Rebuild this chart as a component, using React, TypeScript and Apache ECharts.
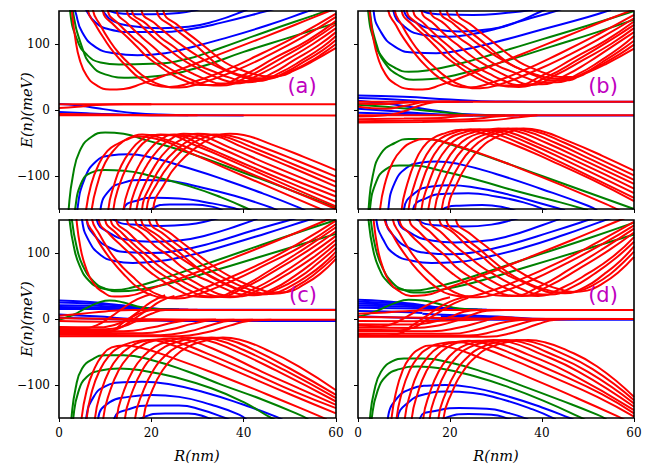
import React, { useEffect, useRef } from "react";
import * as echarts from "echarts";

type Curve = number[][];

const xTicks = [0, 20, 40, 60];
const yTicks = [-100, 0, 100];
const panelLabels = ["(a)", "(b)", "(c)", "(d)"];
const xTitle = "R(nm)";
const yTitle = "E(n)(meV)";

// ---------------- panel (a) ----------------
const aUpGreen: Curve[] = [
  [[2, 200], [2.4, 150], [4, 105], [6, 84], [9, 72], [13, 69], [20, 70], [27, 76], [35, 94], [45, 119], [55, 143], [60, 155]],
  [[2.4, 200], [3, 150], [5, 95], [7, 68], [10, 54], [15, 49], [22, 52], [30, 64], [40, 88], [50, 110], [60, 132]],
];
const aUpBlue: Curve[] = [
  [[2.5, 170], [3.5, 150], [5, 118], [8, 95], [12, 86], [17, 83], [23, 86], [28, 94], [35, 107], [45, 128], [54, 150], [58, 160]],
  [[5, 170], [6, 150], [8, 132], [11, 122], [16, 118], [22, 118], [28, 122], [35, 132], [45, 150], [50, 160]],
  [[8, 170], [9.5, 150], [12, 134], [16, 127], [22, 124], [28, 126], [34, 135], [40, 150], [43, 160]],
  [[9, 165], [11, 150], [14, 146], [20, 145], [26, 147], [30, 152], [33, 158]],
];
const aUpRed: Curve[] = [
  [[2.4, 190], [2.8, 150], [3.5, 110], [4.5, 76], [6, 52], [8, 38], [11, 31], [14, 32], [18, 40], [25, 58], [35, 85], [45, 112], [55, 140], [60, 154]],
  [[5.8, 190], [6.3, 150], [8, 128], [9.5, 111], [12, 86], [14.7, 66], [17.5, 48], [20.5, 38], [24, 35], [28, 40], [36, 60], [44, 86], [52, 114], [60, 146]],
  [[6.9, 190], [7.4, 150], [9, 128], [10.5, 110], [13, 86], [16, 65], [19, 48], [22, 38], [26, 34], [30, 39], [38, 59], [46, 85], [53, 111], [60, 141]],
  [[9, 190], [9.5, 150], [12, 128], [14.7, 111], [17, 95], [19, 81], [21.5, 68], [24, 56], [27, 45], [30.6, 38], [34, 38], [40, 53], [47, 80], [54, 106], [60, 135]],
  [[10.1, 190], [10.6, 150], [13, 130], [16, 110], [18.5, 95], [20.5, 80], [23, 67], [26, 55], [29, 45], [32, 38], [35, 37], [41, 51], [48, 78], [54, 102], [60, 130]],
  [[12, 190], [12.5, 150], [15, 130], [18, 110], [20.5, 95], [23, 80], [26, 66], [29, 55], [32, 46], [35, 40], [38, 40], [44, 56], [50, 79], [55, 100], [60, 124]],
  [[14.2, 190], [14.7, 150], [17.5, 130], [20.5, 110], [23, 96], [26, 80], [29, 67], [32, 56], [35, 47], [38, 42], [41, 42], [46, 55], [51, 76], [56, 97], [60, 118]],
  [[15.3, 190], [15.8, 150], [19, 130], [22, 110], [25, 95], [27.5, 80], [30.5, 67], [34, 57], [37, 49], [40, 44], [43, 44], [48, 57], [53, 77], [57, 95], [60, 112]],
  [[17.4, 190], [17.9, 150], [21, 130], [24, 112], [27, 96], [30, 82], [33, 70], [36, 60], [39, 52], [42, 47], [45, 47], [49, 57], [53, 73], [57, 90], [60, 106]],
  [[20.7, 190], [21.2, 150], [25, 124], [29.1, 101], [32, 83], [34.8, 66], [37.5, 57], [40.6, 51], [43, 48], [46, 49], [50, 58], [54, 72], [57, 85], [60, 100]],
  [[22.1, 190], [22.6, 150], [26, 127], [30, 105], [33, 88], [36, 72], [39, 62], [42, 55], [45, 51], [48, 52], [51, 60], [55, 74], [60, 94]],
];
const aMidBlue: Curve[] = [
  [[0, 9], [4, 7], [8, 3], [12, -1], [16, -4.5], [22, -7], [30, -8], [40, -8.2]],
  [[0, -3], [6, -5], [12, -6.5], [20, -7.8], [28, -8]],
];
const aMidRed: Curve[] = [
  [[0, 8.6], [30, 8.6], [60, 8.6]],
  [[0, -7.8], [30, -8], [60, -8.2]],
  [[0, 3], [4, 5], [8, 7.5], [14, 8.6], [20, 8.6]],
  [[0, -6], [10, -7], [20, -7.8], [30, -8]],
];
const aLowGreen: Curve[] = [
  [[1.7, -200], [2.1, -150], [3, -100], [4.5, -62], [7, -41], [10, -34], [14, -36], [19, -46], [25, -58], [31, -72], [40, -95], [50, -121], [60, -148]],
  [[3, -200], [3.5, -150], [5, -108], [7, -95], [10, -91], [14, -92], [20, -100], [28, -115], [35, -132], [41, -150], [43, -158]],
];
const aLowBlue: Curve[] = [
  [[3.5, -200], [4, -150], [5.5, -105], [8, -78], [11, -69], [15, -67], [20, -72], [28, -88], [36, -106], [44, -126], [52, -148], [54, -155]],
  [[8.5, -200], [9, -150], [11, -121], [14, -110], [18, -106], [23, -107], [30, -116], [38, -130], [46, -148], [48, -155]],
  [[13, -200], [14, -150], [17, -137], [21, -133], [26, -134], [32, -140], [38, -149], [40, -155]],
  [[17, -170], [20, -150], [24, -143], [29, -143], [34, -148], [36, -155]],
];
const aLowRed: Curve[] = [
  [[5.4, -200], [5.9, -150], [7, -112], [8.5, -84], [10.5, -62], [13, -50], [15, -44], [17, -40], [20, -42], [30, -70], [40, -100], [50, -130], [60, -160]],
  [[6.6, -200], [7.1, -150], [8.5, -108], [10, -80], [12, -60], [14, -47], [16, -40], [18, -37], [21, -40], [30, -63], [40, -92], [50, -121], [60, -150]],
  [[10.3, -200], [10.7, -150], [12, -112], [13.5, -84], [15.5, -62], [17.5, -47], [20, -38], [23, -38], [30, -55], [40, -85], [50, -116], [60, -146]],
  [[11.4, -200], [11.8, -150], [13, -115], [15, -82], [17, -60], [19, -46], [22, -37], [25, -38], [32, -57], [42, -87], [52, -116], [60, -139]],
  [[13.6, -200], [14, -150], [15.5, -112], [17.5, -82], [19.5, -61], [22, -45], [25, -37], [28, -39], [35, -58], [45, -89], [60, -131]],
  [[15, -200], [15.4, -150], [17, -112], [19, -84], [21.5, -60], [24, -45], [27, -36], [30, -38], [37, -57], [47, -87], [60, -124]],
  [[16.4, -200], [16.8, -150], [18.5, -114], [21, -82], [23.5, -60], [26.5, -45], [30, -36], [33, -38], [40, -57], [50, -86], [60, -116]],
  [[17.6, -200], [18, -150], [20, -112], [22.5, -82], [25.5, -60], [28.5, -45], [32, -37], [35, -39], [42, -57], [51, -83], [60, -109]],
  [[18.6, -200], [19, -150], [21.5, -108], [24.5, -78], [27.5, -57], [31, -43], [34, -37], [37, -39], [44, -56], [52, -78], [60, -101]],
  [[20, -200], [20.4, -150], [23, -110], [26, -80], [29.5, -58], [33, -43], [37, -36], [40, -38], [46, -52], [53, -71], [60, -91]],
];

// ---------------- panel (b) ----------------
const bUpGreen: Curve[] = [
  [[1.8, 200], [2.2, 150], [3.5, 105], [5.5, 78], [8, 64], [11, 58], [15, 60], [22, 70], [30, 86], [40, 107], [50, 128], [60, 150]],
  [[2.2, 200], [2.6, 150], [4, 100], [6, 70], [9, 52], [12, 46], [16, 47], [23, 56], [32, 74], [42, 96], [52, 118], [60, 137]],
];
const bUpBlue: Curve[] = [
  [[3, 200], [3.4, 150], [5, 118], [8, 96], [12, 87], [17, 86], [22, 90], [30, 103], [40, 122], [50, 141], [55, 152]],
  [[7, 200], [7.7, 150], [10, 127], [14, 114], [19, 111], [24, 114], [30, 123], [36, 136], [43, 150], [46, 158]],
  [[9, 200], [10, 150], [13, 131], [17, 122], [22, 119], [28, 122], [34, 132], [40, 150], [42, 156]],
  [[11, 165], [14, 150], [18, 145], [25, 144], [32, 147], [38, 152]],
];
const bUpRed: Curve[] = [
  [[2, 190], [2.5, 150], [3.3, 110], [4.4, 78], [6, 54], [8, 40], [11, 32], [14, 31], [18, 38], [25, 56], [35, 83], [45, 111], [55, 139], [60, 152]],
  [[6.1, 190], [6.6, 150], [8.3, 128], [9.8, 110], [12.3, 86], [15, 65], [17.8, 48], [20.8, 37], [24, 34], [28, 39], [36, 60], [44, 86], [52, 114], [60, 144]],
  [[7.5, 190], [8, 150], [9.6, 128], [11.1, 110], [13.6, 86], [16.6, 65], [19.6, 48], [22.6, 37], [26.5, 33], [30.5, 38], [38, 58], [46, 84], [53, 110], [60, 139]],
  [[9, 190], [9.5, 150], [12, 128], [14.7, 111], [17, 95], [19, 81], [21.5, 68], [24, 56], [27, 45], [30.6, 37], [34, 37], [40, 52], [47, 79], [54, 106], [60, 134]],
  [[10.1, 190], [10.6, 150], [13, 130], [16, 110], [18.5, 95], [20.5, 80], [23, 67], [26, 55], [29, 44], [32, 36], [35, 35], [41, 50], [48, 77], [54, 102], [60, 129]],
  [[11.5, 190], [12, 150], [14.5, 130], [17.5, 110], [20, 95], [22.5, 80], [25.5, 66], [28.5, 55], [31.5, 45], [34.5, 38], [37.5, 38], [43, 53], [49, 76], [55, 100], [60, 124]],
  [[13.3, 190], [13.8, 150], [16.6, 130], [19.6, 110], [22.1, 96], [25, 80], [28, 67], [31, 56], [34, 46], [37, 39], [40, 39], [45, 52], [50, 72], [55, 95], [60, 118]],
  [[15.2, 190], [15.7, 150], [18.9, 130], [21.9, 110], [24.9, 95], [27.4, 80], [30.4, 67], [33.9, 57], [36.9, 48], [39.9, 42], [43, 42], [48, 55], [53, 76], [57, 95], [60, 112]],
  [[17.3, 190], [17.8, 150], [20.9, 130], [23.9, 112], [26.9, 96], [29.9, 82], [32.9, 70], [35.9, 60], [38.9, 51], [41.9, 45], [45, 45], [49, 55], [53, 72], [57, 90], [60, 105]],
  [[18.8, 190], [19.3, 150], [23, 126], [27, 104], [30, 86], [33, 70], [36, 60], [39, 53], [42, 48], [45, 47], [49, 55], [53, 69], [57, 85], [60, 99]],
  [[20.9, 190], [21.4, 150], [25, 127], [29, 105], [32, 88], [35, 73], [38, 63], [41, 55], [44, 50], [47, 50], [50, 57], [54, 70], [60, 93]],
];
const bMidBlue: Curve[] = [
  [[0, 22], [10, 20], [20, 16], [30, 13], [45, 12.6], [60, 12.6]],
  [[0, 18], [8, 16], [16, 13], [25, 12.6]],
  [[0, 14], [6, 10], [12, 4], [18, -2], [25, -7], [35, -8.5], [60, -8.5]],
  [[0, 2], [8, -2], [16, -6], [25, -8.5]],
  [[0, -4], [10, -6], [20, -8], [30, -8.6]],
];
const bMidGreen: Curve[] = [
  [[0, 8], [6, 5], [12, 1], [18, -3], [26, -8], [32, -8.3]],
];
const bMidRed: Curve[] = [
  [[0, 12.6], [30, 12.6], [60, 12.6]],
  [[0, -8], [30, -8], [60, -8]],
  [[0, 10], [5, 9], [10, 11], [15, 12.6], [20, 12.6]],
  [[0, 5], [6, 2], [10, 6], [15, 12], [20, 12.6]],
  [[0, -10], [6, -8], [10, -2], [14, 8], [18, 12.6], [22, 12.6]],
  [[0, -14], [10, -13], [18, -12], [22, -9], [26, -8]],
  [[0, -17], [12, -16], [24, -14], [30, -10], [34, -8]],
  [[0, -19], [14, -18], [28, -16], [35, -11], [39, -8]],
];
const bLowGreen: Curve[] = [
  [[1.9, -200], [2.3, -150], [3.2, -100], [5, -66], [8, -50], [11, -44], [15, -44], [20, -52], [30, -75], [40, -100], [50, -125], [60, -150]],
  [[2.2, -200], [2.6, -150], [4, -108], [6, -90], [9, -84], [12, -84], [18, -92], [26, -106], [35, -124], [44, -140], [50, -152]],
];
const bLowBlue: Curve[] = [
  [[6.2, -200], [6.6, -150], [8, -110], [10.5, -88], [13.5, -80], [17, -78], [22, -82], [30, -97], [40, -120], [50, -145], [52, -152]],
  [[9.5, -200], [10, -150], [12.5, -125], [16, -116], [20, -114], [25, -117], [32, -127], [40, -142], [45, -152]],
  [[11.5, -200], [12, -150], [15, -133], [19, -127], [24, -126], [30, -131], [36, -140], [41, -152]],
  [[16, -170], [18, -152], [22, -145], [27, -144], [32, -148], [35, -155]],
];
const bLowRed: Curve[] = [
  [[4.4, -200], [4.8, -150], [6, -108], [7.5, -80], [9.5, -60], [12, -48], [14.5, -44], [18, -47], [25, -62], [35, -88], [45, -116], [55, -146], [57, -153]],
  [[9.1, -200], [9.5, -150], [10.8, -110], [12.3, -80], [14, -58], [16, -44], [19, -35], [22.5, -30], [26, -33], [33, -50], [42, -77], [51, -106], [60, -138]],
  [[10.6, -200], [11, -150], [12.4, -110], [14, -80], [15.8, -58], [18, -43], [21, -34], [24.5, -29], [28, -32], [35, -50], [44, -79], [52, -106], [60, -133]],
  [[12, -200], [12.4, -150], [13.9, -110], [15.6, -80], [17.5, -58], [19.8, -43], [23, -34], [26.5, -29], [30, -32], [37, -50], [46, -79], [60, -126]],
  [[13.4, -200], [13.8, -150], [15.4, -110], [17.2, -80], [19.3, -58], [21.7, -43], [25, -34], [28.5, -29], [32, -32], [39, -51], [48, -79], [60, -119]],
  [[14.9, -200], [15.3, -150], [17, -110], [19, -80], [21.2, -58], [23.7, -43], [27, -34], [30.5, -28], [34, -31], [41, -50], [50, -79], [60, -112]],
  [[16.3, -200], [16.7, -150], [18.5, -110], [20.6, -80], [23, -58], [25.6, -43], [29, -34], [32.5, -28], [36, -31], [43, -50], [51, -76], [60, -106]],
  [[17.8, -200], [18.2, -150], [20.1, -110], [22.3, -80], [24.8, -58], [27.5, -43], [31, -33], [34.5, -28], [38, -31], [45, -50], [52, -73], [60, -99]],
  [[19.2, -200], [19.6, -150], [21.6, -110], [24, -80], [26.6, -58], [29.5, -43], [33, -33], [36, -28], [39.5, -31], [46, -48], [53, -69], [60, -92]],
];

// ---------------- panel (c) ----------------
const cUpGreen: Curve[] = [
  [[1.8, 200], [2.3, 150], [3.2, 110], [4.5, 80], [6.5, 58], [9, 47], [12, 44], [16, 48], [22, 60], [30, 79], [40, 103], [50, 127], [60, 150]],
  [[2.3, 200], [2.8, 150], [3.8, 110], [5.2, 80], [7.5, 57], [10, 46], [13, 42], [17, 44], [24, 54], [32, 70], [42, 91], [52, 112], [60, 129]],
];
const cUpBlue: Curve[] = [
  [[4.5, 200], [5, 150], [6.5, 118], [9, 97], [12, 88], [16, 85], [21, 87], [28, 96], [36, 111], [45, 130], [54, 150], [57, 156]],
  [[5.5, 200], [6, 150], [8, 124], [11, 108], [15, 101], [20, 100], [26, 104], [33, 115], [42, 134], [50, 150], [53, 156]],
  [[7.5, 200], [8.2, 150], [11, 130], [15, 120], [20, 117], [26, 119], [32, 127], [39, 142], [43, 152]],
  [[10, 170], [12, 150], [16, 143], [22, 141], [28, 143], [33, 150], [36, 156]],
];
const cUpRed: Curve[] = [
  [[3.4, 190], [3.8, 150], [4.6, 110], [5.7, 80], [7.3, 56], [9.5, 41], [12, 34], [15, 35], [20, 46], [28, 66], [38, 93], [48, 121], [58, 150], [60, 156]],
  [[5.5, 190], [6, 150], [7.7, 128], [9.2, 110], [11.7, 86], [14.4, 65], [17.2, 47], [20.2, 36], [23.5, 32], [27.5, 37], [35, 57], [44, 85], [52, 115], [60, 149]],
  [[6.7, 190], [7.2, 150], [8.8, 128], [10.3, 110], [12.8, 86], [15.8, 65], [18.8, 47], [21.8, 36], [25.5, 31], [29.5, 36], [37, 56], [45, 83], [53, 112], [60, 144]],
  [[8.1, 190], [8.6, 150], [11, 128], [13.7, 110], [16, 95], [18, 81], [20.5, 67], [23, 55], [26, 43], [29.5, 34], [33, 33], [39, 47], [46, 75], [53, 106], [60, 139]],
  [[9.5, 190], [10, 150], [12.4, 130], [15.4, 110], [17.9, 95], [19.9, 80], [22.4, 67], [25.4, 55], [28.4, 43], [31.4, 35], [34.5, 34], [40, 47], [47, 74], [54, 104], [60, 133]],
  [[10.7, 190], [11.2, 150], [13.7, 130], [16.7, 110], [19.2, 95], [21.7, 80], [24.7, 66], [27.7, 54], [30.7, 43], [33.7, 35], [37, 33], [42, 45], [48, 68], [54, 96], [60, 126]],
  [[11.9, 190], [12.4, 150], [15.2, 130], [18.2, 110], [20.7, 96], [23.6, 80], [26.6, 67], [29.6, 55], [32.6, 44], [35.6, 36], [38.6, 34], [43.5, 45], [49, 66], [55, 93], [60, 120]],
  [[14.2, 190], [14.7, 150], [17.9, 130], [20.9, 110], [23.9, 95], [26.4, 80], [29.4, 67], [32.9, 56], [35.9, 46], [38.9, 38], [42, 36], [46.5, 46], [51, 65], [56, 91], [60, 114]],
  [[16, 190], [16.5, 150], [19.6, 130], [22.6, 112], [25.6, 96], [28.6, 82], [31.6, 70], [34.6, 59], [37.6, 49], [40.6, 41], [43.6, 38], [47.5, 46], [52, 63], [56, 84], [60, 108]],
  [[17.3, 190], [17.8, 150], [21.5, 126], [25.5, 104], [28.5, 86], [31.5, 70], [34.5, 58], [37.5, 48], [40.5, 41], [43.5, 37], [46.5, 39], [50.5, 51], [54, 66], [57, 82], [60, 102]],
  [[19, 190], [19.5, 150], [23, 127], [27, 105], [30, 88], [33, 73], [36, 61], [39, 51], [42, 43], [45, 38], [48, 39], [51.5, 50], [55, 66], [60, 96]],
  [[20.5, 190], [21, 150], [24.5, 128], [28.5, 106], [31.5, 90], [34.5, 75], [37.5, 63], [40.5, 53], [43.5, 45], [46.5, 40], [49.5, 41], [53, 52], [56.5, 68], [60, 91]],
];
const cMidBlue: Curve[] = [
  [[0, 28], [6, 26], [12, 22], [18, 17], [24, 14.5], [32, 14], [60, 14]],
  [[0, 25], [8, 23], [14, 20], [20, 16], [26, 14]],
  [[0, 21], [8, 20], [16, 17], [22, 15], [28, 14]],
  [[0, 18], [10, 17], [18, 15], [26, 14]],
  [[0, 15], [12, 15], [20, 14.5]],
  [[0, 7], [8, 4], [16, 0], [24, -2.5], [35, -3], [60, -3]],
  [[0, 2], [10, 0], [20, -2], [30, -3]],
];
const cMidGreen: Curve[] = [
  [[0, -1], [3, 6], [6, 17], [9, 26], [11, 28], [14, 25], [17, 19], [21, 15], [26, 14]],
];
const cMidRed: Curve[] = [
  [[0, 5], [5, 8], [10, 11.5], [16, 13.6], [30, 13.8], [60, 13.8]],
  [[0, 1], [15, 0], [30, -1], [60, -1.2]],
  [[0, -3], [10, -4], [18, -3], [26, -1.5], [34, -1]],
  [[0, -12], [8, -12.5], [12, -9], [15, 0], [18, 10], [21, 14], [28, 14]],
  [[0, -15], [10, -15.5], [14, -11], [17, -2], [20, 8], [23, 13.5], [30, 14]],
  [[0, -18], [14, -18.5], [20, -13], [25, -5], [29, -1.5], [34, -1]],
  [[0, -21], [18, -21.5], [24, -16], [29, -7], [33, -2], [38, -1]],
  [[0, -24], [22, -24.5], [28, -19], [33, -9], [37, -2.5], [42, -1]],
  [[0, -26], [26, -26], [32, -20], [37, -10], [41, -3], [46, -1]],
  [[0, -13], [5, -14], [8, -10], [11, 2], [14, 17], [17, 30], [20, 38]],
  [[0, -17], [10, -18], [13, -14], [16, -1], [19, 13], [22, 27], [25, 35]],
  [[0, -22], [8, -23], [11, -20], [14, -5], [17, 10], [20, 26], [23, 36]],
];
const cLowGreen: Curve[] = [
  [[2.2, -200], [2.7, -150], [3.6, -105], [5, -75], [7.5, -60], [10, -55], [14, -55], [20, -62], [28, -80], [35, -99], [44, -122], [52, -145], [54, -152]],
  [[2.6, -200], [3.1, -150], [4.2, -110], [6, -88], [9, -78], [13, -75], [18, -78], [25, -88], [33, -105], [40, -126], [46, -150], [48, -156]],
];
const cLowBlue: Curve[] = [
  [[5.4, -200], [5.9, -150], [7.5, -118], [10, -102], [14, -96], [18, -95], [24, -99], [32, -112], [40, -130], [47, -148], [49, -155]],
  [[8, -200], [8.5, -150], [11, -126], [15, -118], [20, -115], [26, -118], [33, -130], [39, -145], [41, -155]],
  [[11, -200], [12, -150], [15, -137], [20, -131], [26, -131], [31, -138], [36, -150], [38, -156]],
  [[15, -170], [18, -150], [23, -143], [28, -143], [32, -149], [34, -156]],
];
const cLowRed: Curve[] = [
  [[4.5, -200], [4.9, -150], [6, -108], [7.5, -78], [9.3, -56], [11.4, -43], [14, -40], [18, -44], [25, -60], [35, -86], [45, -114], [55, -143], [58, -152]],
  [[5.6, -200], [6, -150], [7.2, -108], [8.8, -78], [10.7, -57], [13, -43], [16, -35], [19.5, -32], [23, -36], [30, -54], [40, -84], [50, -114], [60, -143]],
  [[7.4, -200], [7.8, -150], [9.2, -108], [10.9, -78], [12.9, -57], [15.2, -43], [18, -34], [21.5, -31], [25, -34], [32, -52], [42, -82], [51, -110], [60, -135]],
  [[9.2, -200], [9.6, -150], [11.1, -108], [12.9, -78], [15, -57], [17.5, -42], [20.5, -33], [24.5, -29], [28, -32], [35, -50], [44, -80], [52, -105], [60, -130]],
  [[12.1, -200], [12.5, -150], [14.1, -108], [16, -78], [18.2, -57], [20.8, -42], [24, -33], [28, -28], [31.5, -31], [38, -48], [47, -78], [60, -125]],
  [[13.9, -200], [14.3, -150], [16, -108], [18, -78], [20.3, -57], [23, -42], [26.5, -33], [30.5, -28], [34, -31], [40, -47], [49, -78], [60, -120]],
  [[16.1, -200], [16.5, -150], [18.3, -108], [20.4, -78], [22.8, -57], [25.6, -42], [29.2, -33], [33, -28], [36.5, -31], [42, -46], [50, -75], [60, -115]],
  [[17.9, -200], [18.3, -150], [20.2, -108], [22.4, -78], [25, -57], [28, -42], [31.6, -33], [35.5, -28], [39, -31], [45, -47], [52, -72], [60, -108]],
];

// ---------------- panel (d) ----------------
const dUpGreen: Curve[] = [
  [[1.8, 200], [2.3, 150], [3.2, 108], [4.5, 78], [6.5, 56], [9, 45], [12, 43], [16, 47], [22, 58], [30, 76], [40, 99], [50, 122], [60, 146]],
  [[2.3, 200], [2.8, 150], [3.8, 108], [5.3, 78], [7.5, 55], [10, 44], [13, 40], [17, 43], [24, 53], [32, 69], [42, 90], [52, 111], [60, 128]],
];
const dUpBlue: Curve[] = [
  [[3.5, 200], [4, 150], [5.5, 120], [8, 98], [12, 88], [16, 85], [21, 86], [28, 94], [36, 108], [45, 128], [53, 148], [56, 155]],
  [[5.5, 200], [6, 150], [8, 124], [11, 108], [15, 100], [20, 98], [26, 102], [33, 113], [42, 132], [50, 150], [52, 155]],
  [[8, 200], [8.7, 150], [11.5, 130], [16, 119], [21, 116], [27, 118], [33, 126], [40, 142], [44, 152]],
  [[11, 170], [13, 150], [17, 142], [23, 140], [29, 143], [34, 151], [36, 156]],
];
const dUpRed: Curve[] = [
  [[3, 190], [3.4, 150], [4.2, 110], [5.3, 80], [6.9, 56], [9, 42], [11.5, 35], [14.5, 36], [19, 46], [27, 66], [37, 93], [47, 121], [57, 150], [60, 158]],
  [[5.3, 190], [5.8, 150], [7.5, 128], [9, 110], [11.5, 86], [14.2, 65], [17, 48], [20, 37], [23.3, 34], [27.3, 39], [35, 59], [44, 87], [52, 116], [60, 147]],
  [[7.1, 190], [7.6, 150], [9.2, 128], [10.7, 110], [13.2, 86], [16.2, 65], [19.2, 48], [22.2, 37], [26, 33], [30, 38], [37.5, 58], [45.5, 85], [53, 113], [60, 142]],
  [[8.5, 190], [9, 150], [11.4, 128], [14.1, 110], [16.4, 95], [18.4, 81], [20.9, 67], [23.4, 55], [26.4, 44], [29.9, 36], [33.4, 35], [39.4, 49], [46.4, 77], [53.4, 107], [60, 137]],
  [[10.7, 190], [11.2, 150], [13.6, 130], [16.6, 110], [19.1, 95], [21.1, 80], [23.6, 67], [26.6, 55], [29.6, 44], [32.6, 36], [35.7, 35], [41.2, 49], [48, 76], [54.5, 104], [60, 131]],
  [[12.9, 190], [13.4, 150], [16, 130], [19, 110], [21.5, 95], [24, 80], [27, 66], [30, 54], [33, 44], [36, 36], [39.2, 35], [44.3, 47], [50, 69], [55.5, 95], [60, 124]],
  [[15, 190], [15.5, 150], [18.3, 130], [21.3, 110], [23.8, 96], [26.7, 80], [29.7, 67], [32.7, 55], [35.7, 45], [38.7, 38], [41.7, 37], [46.5, 48], [51.5, 69], [56, 92], [60, 117]],
  [[17.2, 190], [17.7, 150], [20.9, 130], [23.9, 110], [26.9, 95], [29.4, 80], [32.4, 67], [35.9, 56], [38.9, 47], [41.9, 40], [45, 39], [49.5, 49], [53.5, 68], [57, 88], [60, 110]],
  [[18.7, 190], [19.2, 150], [22.7, 126], [26.7, 104], [29.7, 86], [32.7, 70], [35.7, 58], [38.7, 49], [41.7, 43], [44.7, 40], [47.7, 42], [51.5, 53], [55, 69], [58, 88], [60, 102]],
  [[20.8, 190], [21.3, 150], [24.8, 127], [28.8, 105], [31.8, 88], [34.8, 73], [37.8, 61], [40.8, 52], [43.8, 45], [46.8, 41], [49.8, 43], [53, 53], [56.5, 70], [60, 94]],
];
const dMidBlue: Curve[] = [
  [[0, 29], [6, 27], [12, 23], [18, 17], [24, 14], [40, 13.6], [60, 13.6]],
  [[0, 26], [8, 24], [14, 20], [20, 15.5], [26, 14]],
  [[0, 23], [8, 22], [16, 18], [22, 15], [28, 14]],
  [[0, 20], [10, 19], [18, 16], [26, 14]],
  [[0, 17], [12, 16], [20, 14.5]],
  [[0, 12], [8, 11], [14, 9]],
  [[0, 4], [10, 2], [20, 0], [30, -1], [60, -1]],
  [[14, 8], [20, 6], [26, 5], [32, 3], [38, 0.5], [44, 0]],
  [[18, 4], [24, 3], [30, 2], [36, 0]],
];
const dMidGreen: Curve[] = [
  [[0, 3], [4, 12], [8, 24], [11, 29], [14, 28], [18, 22], [22, 16], [27, 14]],
];
const dMidRed: Curve[] = [
  [[0, 8], [6, 10], [12, 12.5], [18, 13.6], [40, 13.6], [60, 13.6]],
  [[0, 3], [15, 2], [30, 0.5], [60, 0]],
  [[0, -3], [12, -3.5], [22, -2], [32, 0], [40, 0]],
  [[0, -8], [10, -8.5], [16, -5], [20, 3], [23, 11], [26, 13.6]],
  [[0, -13], [12, -13.5], [18, -9], [22, -1], [25, 7], [28, 12.5], [32, 13.6]],
  [[0, -18], [16, -18.5], [22, -13], [27, -4], [31, 3], [35, 1], [38, 0]],
  [[0, -22], [20, -22.5], [26, -16], [31, -6], [36, -1], [40, 0]],
  [[0, -25], [24, -25], [30, -18], [35, -8], [39, -1.5], [44, 0]],
  [[0, -27], [28, -27], [34, -20], [39, -8], [43, -1], [48, 0]],
  [[0, -10], [5, -11], [8, -6], [11, 5], [14, 17], [17, 27], [20, 33]],
  [[0, -16], [9, -17], [12, -13], [15, -1], [18, 12], [21, 24], [24, 32]],
  [[0, -24], [6, -25], [9, -22], [12, -9], [15, 5], [18, 19], [21, 29], [24, 34]],
];
const dLowGreen: Curve[] = [
  [[2.1, -200], [2.6, -150], [3.5, -110], [5, -80], [7.5, -64], [10, -60], [14, -60], [20, -66], [28, -82], [36, -102], [44, -123], [52, -145], [54, -152]],
  [[2.5, -200], [3, -150], [4.2, -110], [6.2, -86], [9, -76], [13, -72], [18, -75], [25, -86], [33, -104], [41, -126], [48, -148], [50, -155]],
];
const dLowBlue: Curve[] = [
  [[6, -200], [6.5, -150], [8.5, -120], [11.5, -106], [15, -101], [19, -100], [25, -104], [32, -116], [40, -134], [46, -150], [48, -156]],
  [[8, -200], [8.6, -150], [11, -126], [14.5, -114], [19, -110], [25, -112], [31, -121], [38, -137], [43, -152]],
  [[12.5, -200], [13.5, -150], [17, -139], [22, -135], [28, -136], [33, -143], [37, -152]],
  [[16, -165], [19, -150], [24, -144], [29, -145], [33, -152], [35, -158]],
];
const dLowRed: Curve[] = [
  [[6.9, -200], [7.3, -150], [8.3, -110], [9.6, -80], [11.3, -58], [13.5, -45], [16, -40], [20, -43], [27, -60], [37, -88], [47, -118], [56, -146], [58, -153]],
  [[8, -200], [8.4, -150], [9.6, -110], [11.1, -80], [13, -58], [15.3, -44], [18, -37], [21.5, -35], [25, -39], [32, -57], [42, -87], [52, -118], [60, -148]],
  [[9.8, -200], [10.2, -150], [11.5, -110], [13.1, -80], [15.1, -58], [17.5, -43], [20.5, -36], [24, -33], [27.5, -37], [34, -54], [44, -84], [53, -114], [60, -143]],
  [[11.3, -200], [11.7, -150], [13.1, -110], [14.8, -80], [16.9, -58], [19.4, -43], [22.6, -35], [26.5, -33], [30, -36], [37, -54], [46, -82], [60, -138]],
  [[13.8, -200], [14.2, -150], [15.7, -110], [17.5, -80], [19.7, -58], [22.3, -43], [25.6, -35], [29.5, -32], [33, -35], [39, -51], [48, -80], [60, -133]],
  [[15.2, -200], [15.6, -150], [17.2, -110], [19.1, -80], [21.4, -58], [24.2, -43], [27.8, -35], [32, -32], [35.5, -35], [41, -50], [50, -80], [60, -128]],
  [[17.1, -200], [17.5, -150], [19.2, -110], [21.3, -80], [23.8, -58], [26.8, -43], [30.5, -35], [34.5, -32], [38, -35], [43, -48], [51, -76], [60, -123]],
  [[18.2, -200], [18.6, -150], [20.5, -110], [22.8, -80], [25.5, -58], [28.7, -43], [32.5, -35], [37, -32], [40.5, -35], [45, -46], [52, -72], [60, -118]],
];

const RED = "#ff0000";
const BLUE = "#0000ff";
const GREEN = "#008000";
const MAGENTA = "#bf00bf";

const GRIDS = [
  { left: 59, top: 11, width: 277, height: 198 },
  { left: 358, top: 11, width: 276, height: 198 },
  { left: 59, top: 220, width: 277, height: 198 },
  { left: 358, top: 220, width: 276, height: 198 },
];
const LABEL_POS = [
  [302, 86],
  [603, 86],
  [303, 295],
  [603, 295],
];

const panels = [
  { blue: [...aUpBlue, ...aMidBlue, ...aLowBlue], green: [...aUpGreen, ...aLowGreen], red: [...aUpRed, ...aMidRed, ...aLowRed] },
  { blue: [...bUpBlue, ...bMidBlue, ...bLowBlue], green: [...bUpGreen, ...bMidGreen, ...bLowGreen], red: [...bUpRed, ...bMidRed, ...bLowRed] },
  { blue: [...cUpBlue, ...cMidBlue, ...cLowBlue], green: [...cUpGreen, ...cMidGreen, ...cLowGreen], red: [...cUpRed, ...cMidRed, ...cLowRed] },
  { blue: [...dUpBlue, ...dMidBlue, ...dLowBlue], green: [...dUpGreen, ...dMidGreen, ...dLowGreen], red: [...dUpRed, ...dMidRed, ...dLowRed] },
];

const fmtY = (v: number) => (v < 0 ? "\u2212" + Math.abs(v) : String(v));

function buildOption() {
  const series: any[] = [];
  panels.forEach((p, i) => {
    const add = (curves: Curve[], color: string, z: number) => {
      curves.forEach((c) => {
        series.push({
          type: "line",
          xAxisIndex: i,
          yAxisIndex: i,
          data: c,
          smooth: 0.5,
          showSymbol: false,
          symbol: "none",
          silent: true,
          clip: true,
          z,
          lineStyle: { color, width: 2 },
        });
      });
    };
    add(p.blue, BLUE, 2);
    add(p.green, GREEN, 3);
    add(p.red, RED, 4);
  });

  const graphic: any[] = [];
  GRIDS.forEach((g, i) => {
    graphic.push({
      type: "rect",
      z: 100,
      silent: true,
      shape: { x: g.left, y: g.top, width: g.width, height: g.height },
      style: { fill: "none", stroke: "#000", lineWidth: 1.6 },
    });
    graphic.push({
      type: "text",
      z: 101,
      x: LABEL_POS[i][0],
      y: LABEL_POS[i][1],
      style: {
        text: panelLabels[i],
        fill: MAGENTA,
        fontSize: 21,
        fontFamily: "DejaVu Sans",
        textAlign: "center",
        textVerticalAlign: "middle",
      },
    });
  });
  [197, 496].forEach((cx) => {
    graphic.push({
      type: "text",
      x: cx,
      y: 456,
      style: {
        text: xTitle,
        fill: "#000",
        fontSize: 14.5,
        fontStyle: "italic",
        fontFamily: "DejaVu Serif",
        textAlign: "center",
        textVerticalAlign: "middle",
      },
    });
  });
  [110, 319].forEach((cy) => {
    graphic.push({
      type: "text",
      x: 27,
      y: cy,
      rotation: Math.PI / 2,
      style: {
        text: yTitle,
        fill: "#000",
        fontSize: 14.5,
        fontStyle: "italic",
        fontFamily: "DejaVu Serif",
        textAlign: "center",
        textVerticalAlign: "middle",
      },
    });
  });

  return {
    animation: false,
    backgroundColor: "#ffffff",
    grid: GRIDS.map((g) => ({ ...g, containLabel: false, show: false })),
    xAxis: GRIDS.map((_, i) => ({
      gridIndex: i,
      type: "value",
      min: 0,
      max: 60,
      position: "bottom",
      axisLine: { show: false, onZero: false },
      splitLine: { show: false },
      axisTick: { show: true, inside: false, length: 4, customValues: xTicks, lineStyle: { color: "#000", width: 1 } },
      axisLabel: {
        show: i >= 2,
        customValues: xTicks,
        margin: 9,
        fontFamily: "DejaVu Serif",
        fontSize: 12,
        color: "#000",
      },
    })),
    yAxis: GRIDS.map((_, i) => ({
      gridIndex: i,
      type: "value",
      min: -150,
      max: 150,
      position: "left",
      axisLine: { show: false, onZero: false },
      splitLine: { show: false },
      axisTick: { show: true, inside: false, length: 4, customValues: yTicks, lineStyle: { color: "#000", width: 1 } },
      axisLabel: {
        show: i % 2 === 0,
        customValues: yTicks,
        margin: 9,
        fontFamily: "DejaVu Serif",
        fontSize: 12,
        color: "#000",
        formatter: fmtY,
      },
    })),
    series,
    graphic,
  };
}

export default function App() {
  const ref = useRef<HTMLDivElement>(null);
  useEffect(() => {
    document.body.style.margin = "0";
    if (!ref.current) return;
    const chart = echarts.init(ref.current, undefined, { renderer: "svg" });
    chart.setOption(buildOption() as any);
    return () => chart.dispose();
  }, []);
  return <div ref={ref} style={{ width: 654, height: 475, position: "fixed", left: 0, top: 0, background: "#fff" }} />;
}
